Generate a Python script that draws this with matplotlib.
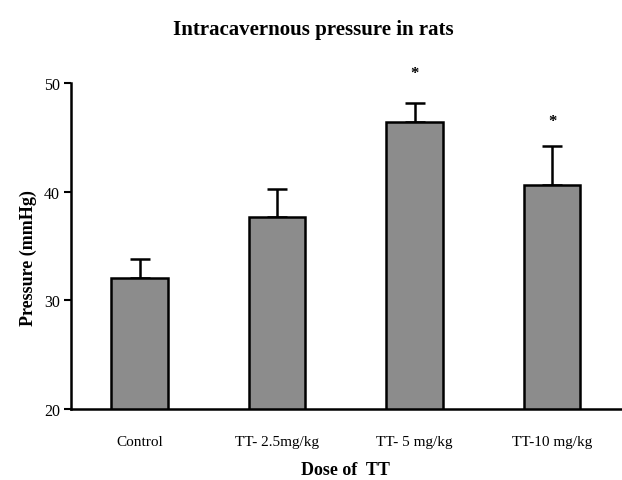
import matplotlib
matplotlib.use("Agg")
import matplotlib.pyplot as plt
import numpy as np

# values
groups = ["Control", "TT- 2.5mg/kg", "TT- 5 mg/kg", "TT-10 mg/kg"]
pressure = [32.1, 37.7, 46.4, 40.6]
sem = [1.7, 2.5, 1.8, 3.6]
significant = [False, False, True, True]
star_level = [None, None, 50.9, 46.5]

plt.rcParams['font.family'] = ['Liberation Serif', 'DejaVu Serif']

fig = plt.figure(figsize=(6.22, 4.81), dpi=100)
ax = fig.add_axes([0.114, 0.1476, 0.884, 0.6778])

x = np.arange(len(groups))
ax.bar(x, pressure, width=0.41, color='#8c8c8c', edgecolor='black', linewidth=1.8, zorder=2)
ax.errorbar(x, pressure, yerr=[np.zeros(len(sem)), sem], fmt='none', ecolor='black',
            elinewidth=1.8, capsize=7, capthick=1.8, zorder=1)

for xi, sig, lvl in zip(x, significant, star_level):
    if sig:
        ax.text(xi, lvl, "*", ha='center', va='center', fontsize=12,
                fontweight='bold', clip_on=False)

ax.set_xlim(-0.5, 3.5)
ax.set_ylim(20, 50)
ax.set_yticks([20, 30, 40, 50])
ax.set_xticks(x)
ax.set_xticklabels(groups, fontsize=11)
ax.tick_params(axis='x', length=0, pad=19)
ax.tick_params(axis='y', length=5, width=1.5, labelsize=11.5, pad=3)

for side in ['top', 'right']:
    ax.spines[side].set_visible(False)
ax.spines['left'].set_linewidth(1.8)
ax.spines['bottom'].set_linewidth(1.8)

ax.set_ylabel("Pressure (mmHg)", fontsize=13, fontweight='bold')
ax.yaxis.set_label_coords(-0.062, 0.465)
ax.set_xlabel("Dose of  TT", fontsize=13, fontweight='bold', labelpad=9)
fig.text(0.503, 0.938, "Intracavernous pressure in rats", ha='center', va='center',
         fontsize=15, fontweight='bold')

fig.savefig("out.png", dpi=100)
